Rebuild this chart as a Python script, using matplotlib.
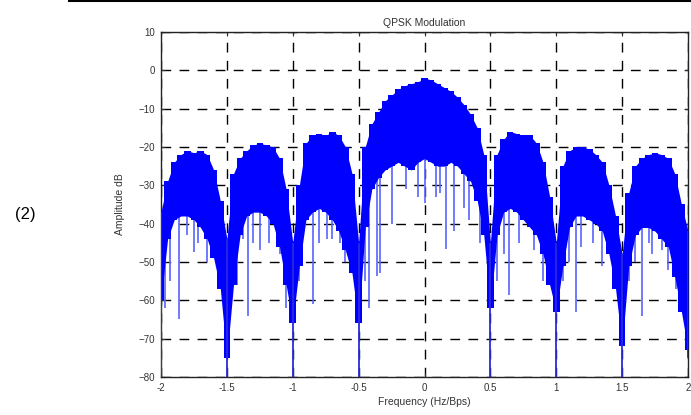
import numpy as np
import matplotlib
matplotlib.use("Agg")
import matplotlib.pyplot as plt

plt.rcParams['font.family'] = ['Liberation Sans', 'DejaVu Sans']

# frequency grid of the envelope readings (Hz/Bps)
freq = np.arange(-2.0, 2.0001, 0.05)

# top of the noisy spectrum (dB)
upper = [-37, -29, -24, -22, -21, -21.5, -21, -22, -26, -34,
         -44, -27, -23, -21, -19.5, -19, -19.5, -20, -23, -31,
         -45, -30, -19, -17, -16.5, -17, -16, -17, -20, -27,
         -45, -20, -14, -11, -8, -6.5, -5, -4, -3.5, -3,
         -2, -2.5, -3.5, -4.5, -5.5, -7, -9, -11.5, -15, -22,
         -45, -22, -18, -16, -16.5, -17, -17, -19, -24, -33,
         -45, -25, -21, -20, -20, -20.5, -22, -24, -30, -38,
         -48, -32, -25, -23, -22, -21.5, -22, -23, -27, -35,
         -42]

# bottom of the solid part of the spectrum (dB)
lower = [-60, -44, -39, -38, -38, -39, -41, -44, -49, -57,
         -75, -56, -43, -38, -37, -37, -38, -40, -46, -56,
         -66, -51, -39, -37, -36, -37, -39, -42, -47, -53,
         -66, -41, -31, -28, -26, -25, -24, -25, -26, -24,
         -23, -24, -25, -25, -24, -25, -27, -29, -34, -43,
         -62, -43, -37, -36, -37, -39, -41, -43, -48, -56,
         -63, -51, -41, -38, -38, -39, -40, -42, -48, -57,
         -72, -51, -43, -41, -41, -42, -44, -46, -54, -63,
         -73]

# spectral nulls (frequency, depth dB)
null_f = [-2.0, -1.5, -1.0, -0.5, 0.5, 1.0, 1.5, 2.0]
null_db = [-80, -80, -80, -80, -80, -80, -80, -75]

# isolated downward spikes below the solid body
spike_f = [-1.97, -1.93, -1.86, -1.80, -1.75, -1.72, -1.65, -1.62, -1.42,
           -1.38, -1.34, -1.30, -1.25, -1.18, -1.10, -1.05, -0.95, -0.85,
           -0.80, -0.74, -0.70, -0.64, -0.60, -0.45, -0.42, -0.36, -0.34,
           -0.25, -0.14, -0.05, 0.0, 0.09, 0.12, 0.165, 0.22, 0.30, 0.34,
           0.42, 0.55, 0.60, 0.64, 0.72, 0.83, 0.90, 1.05, 1.10, 1.15,
           1.19, 1.28, 1.35, 1.42, 1.55, 1.60, 1.65, 1.70, 1.73, 1.80,
           1.85, 1.91]
spike_db = [-62, -55, -65, -43, -47.5, -45, -50, -45, -56,
            -44, -64, -45, -47, -45, -48, -62, -55, -61,
            -45, -44, -44, -45, -50, -55, -62, -53.6, -53,
            -40, -31, -33, -34.6, -33, -32, -46.5, -42, -36, -39,
            -45, -55, -48, -58.7, -45, -47, -55, -55, -50, -63,
            -46, -45, -51, -50, -55, -50, -64, -45, -48, -47,
            -52, -57]

fig = plt.figure(figsize=(6.91, 4.15), dpi=100)
ax = fig.add_axes([0.233, 0.0916, 0.7627, 0.8313])

blue = '#0000ff'
ax.fill_between(freq, lower, upper, step='mid', color=blue, lw=0, zorder=3)
ax.fill_between(freq, lower, upper, color=blue, lw=0, zorder=3)
ax.vlines(spike_f, np.interp(spike_f, freq, lower) + 2, spike_db,
          color='#5a64ff', lw=1.2, zorder=2)
ax.vlines(null_f, np.interp(null_f, freq, upper), null_db,
          color='#2a2ae0', lw=1.3, zorder=4)

ax.set_xlim(-2, 2)
ax.set_ylim(-80, 10)
ax.set_xticks([-2, -1.5, -1, -0.5, 0, 0.5, 1, 1.5, 2])
ax.set_xticklabels(['-2', '-1.5', '-1', '-0.5', '0', '0.5', '1', '1.5', '2'])
ax.set_yticks(range(-80, 11, 10))
ax.grid(True, color='black', linestyle=(0, (7, 6)), linewidth=1.0, zorder=1)
ax.set_axisbelow(True)
ax.tick_params(direction='in', top=True, right=True, length=3, labelsize=7,
               colors='#333333', pad=4)
for s in ax.spines.values():
    s.set_linewidth(1.0)
    s.set_color('#222222')

ax.set_title('QPSK Modulation', fontsize=7.5, color='#333333', pad=4)
ax.set_xlabel('Frequency (Hz/Bps)', fontsize=7.5, color='#333333', labelpad=3)
ax.set_ylabel('Amplitude dB', fontsize=7.5, color='#333333', labelpad=10)

fig.text(0.036, 0.484, '(2)', fontsize=12, ha='center', va='center')
fig.add_artist(plt.Line2D([0.1, 1.0], [0.997, 0.997], color='black', lw=1.5))

fig.savefig('out.png', dpi=100)
